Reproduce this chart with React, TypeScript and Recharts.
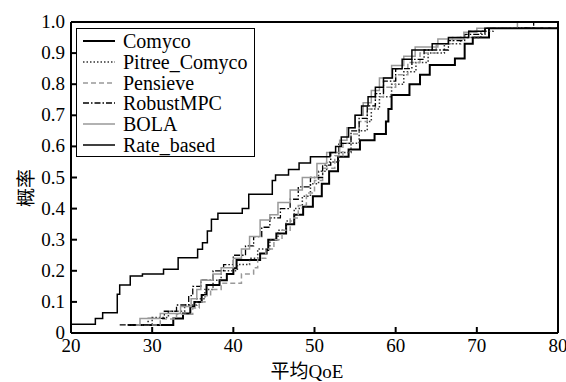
import { Line, LineChart, XAxis, YAxis } from "recharts";

const X_TICKS = [20, 30, 40, 50, 60, 70, 80];
const Y_TICKS = [0, 0.1, 0.2, 0.3, 0.4, 0.5, 0.6, 0.7, 0.8, 0.9, 1.0];

const COMYCO_X = [27, 32.6, 33.8, 34.7, 35.2, 36.1, 36.7, 38.3, 39.2, 40, 40.4, 43.3, 44.1, 44.3, 45.3, 46.5, 47.5, 48.6, 49.8, 50.9, 51.8, 52.9, 54.2, 55.6, 57.4, 58.8, 59.1, 59.5, 61.7, 63, 64.2, 67.3, 68.5, 69.5, 71.5, 80];
const COMYCO_P = [0.026, 0.047, 0.063, 0.085, 0.1, 0.122, 0.154, 0.17, 0.19, 0.208, 0.235, 0.256, 0.267, 0.3, 0.32, 0.35, 0.38, 0.406, 0.44, 0.48, 0.52, 0.567, 0.59, 0.62, 0.64, 0.68, 0.72, 0.765, 0.8, 0.83, 0.862, 0.883, 0.93, 0.95, 0.98, 0.98];

const PITREE_X = [27, 30, 32, 34, 35.5, 36.5, 37.5, 38.5, 40.5, 42, 43, 44.5, 45.5, 46.5, 47.5, 48.5, 49.5, 50.5, 51.5, 53, 54.5, 55.5, 56.5, 57, 58, 59.5, 61, 62.5, 64, 66, 68, 70.5, 72, 80];
const PITREE_P = [0.026, 0.05, 0.07, 0.09, 0.11, 0.14, 0.17, 0.2, 0.22, 0.24, 0.27, 0.3, 0.33, 0.36, 0.4, 0.44, 0.48, 0.52, 0.55, 0.58, 0.61, 0.65, 0.68, 0.72, 0.76, 0.8, 0.84, 0.87, 0.9, 0.93, 0.95, 0.97, 0.98, 0.98];

const PENSIEVE_X = [28, 31, 33, 35, 35.8, 36.5, 37.2, 38.5, 41, 42.5, 43, 44, 45, 46, 47, 48, 49, 50, 51, 52.5, 53.5, 54.5, 55.5, 56.5, 57.5, 58.5, 60, 61.5, 63, 65, 67, 69, 71, 80];
const PENSIEVE_P = [0.026, 0.045, 0.06, 0.08, 0.1, 0.12, 0.14, 0.16, 0.19, 0.21, 0.24, 0.27, 0.3, 0.33, 0.37, 0.41, 0.45, 0.49, 0.53, 0.57, 0.61, 0.64, 0.68, 0.72, 0.76, 0.79, 0.83, 0.87, 0.9, 0.93, 0.95, 0.97, 0.98, 0.98];

const MPC_X = [26, 29.5, 31.5, 33, 34.5, 35, 36, 37.5, 38.8, 40, 41.5, 42.5, 43.5, 44.5, 45.8, 47, 48, 49.5, 51, 52, 53, 54.5, 55.5, 56.5, 57.5, 58.5, 60, 62, 63.5, 66.5, 68.5, 71, 77, 80];
const MPC_P = [0.026, 0.047, 0.07, 0.09, 0.12, 0.15, 0.17, 0.2, 0.22, 0.25, 0.28, 0.31, 0.34, 0.37, 0.4, 0.43, 0.47, 0.5, 0.54, 0.58, 0.61, 0.65, 0.69, 0.73, 0.77, 0.81, 0.85, 0.88, 0.91, 0.94, 0.96, 0.98, 1.0, 1.0];

const BOLA_X = [28, 28.5, 31, 33.5, 34.8, 35.5, 36, 37.5, 38.5, 40, 41, 42, 43.3, 44.5, 45.5, 47, 48.5, 50.3, 51.5, 53.1, 54, 55, 56, 57, 58, 59.5, 61, 62.4, 65.2, 68.4, 70, 75, 80];
const BOLA_P = [0.026, 0.047, 0.063, 0.085, 0.11, 0.14, 0.17, 0.19, 0.21, 0.24, 0.27, 0.31, 0.363, 0.38, 0.42, 0.46, 0.5, 0.545, 0.58, 0.62, 0.66, 0.7, 0.74, 0.78, 0.82, 0.86, 0.89, 0.92, 0.945, 0.967, 0.98, 1.0, 1.0];

const RATE_X = [20, 23, 23.9, 25.7, 26, 27.3, 28.8, 31.4, 33.2, 35.6, 36.2, 36.8, 37.3, 38.1, 41.1, 41.9, 44.8, 45.2, 46.8, 48.1, 49.5, 51.9, 52.6, 53.3, 54.2, 55, 55.8, 56.6, 57.5, 58.5, 59.6, 60.8, 62, 64.5, 66.5, 69, 71, 80];
const RATE_P = [0.028, 0.047, 0.065, 0.125, 0.154, 0.183, 0.19, 0.205, 0.242, 0.269, 0.29, 0.328, 0.366, 0.385, 0.4, 0.446, 0.49, 0.508, 0.526, 0.547, 0.567, 0.58, 0.6, 0.63, 0.66, 0.7, 0.73, 0.76, 0.79, 0.82, 0.85, 0.88, 0.91, 0.93, 0.95, 0.97, 0.98, 0.98];

const toPoints = (xs: number[], ps: number[]) => xs.map((x, i) => ({ x, p: ps[i] }));

const SERIES = [
  { name: "Comyco", data: toPoints(COMYCO_X, COMYCO_P), color: "#000", width: 2, dash: undefined },
  { name: "Pitree_Comyco", data: toPoints(PITREE_X, PITREE_P), color: "#333", width: 1.5, dash: "1.5 2" },
  { name: "Pensieve", data: toPoints(PENSIEVE_X, PENSIEVE_P), color: "#999", width: 1.5, dash: "5 3" },
  { name: "RobustMPC", data: toPoints(MPC_X, MPC_P), color: "#000", width: 1.3, dash: "6 2 1.5 2" },
  { name: "BOLA", data: toPoints(BOLA_X, BOLA_P), color: "#999", width: 1.5, dash: undefined },
  { name: "Rate_based", data: toPoints(RATE_X, RATE_P), color: "#000", width: 1.5, dash: undefined },
];

const SERIF = "'Liberation Serif', serif";
const CJK = "'Liberation Serif', 'Noto Sans CJK SC', serif";

// plot box in page pixels
const PLOT = { left: 71, top: 22, width: 487, height: 311 };

const XTick = (props: any) => {
  const { x, payload } = props;
  return (
    <g>
      <line x1={x} x2={x} y1={PLOT.top + PLOT.height} y2={PLOT.top + PLOT.height - 6} stroke="#000" strokeWidth={2} />
      <text x={x} y={PLOT.top + PLOT.height + 19} textAnchor="middle" fontFamily={SERIF} fontSize={19} fill="#000">
        {payload.value}
      </text>
    </g>
  );
};

const YTick = (props: any) => {
  const { y, payload } = props;
  const v = payload.value as number;
  return (
    <g>
      <line x1={PLOT.left} x2={PLOT.left + 6} y1={y} y2={y} stroke="#000" strokeWidth={2} />
      <text x={PLOT.left - 6} y={y + 6} textAnchor="end" fontFamily={SERIF} fontSize={19} fill="#000">
        {v === 0 ? "0" : v.toFixed(1)}
      </text>
    </g>
  );
};

function LegendBox() {
  return (
    <div
      style={{
        position: "absolute",
        left: 76,
        top: 28,
        border: "1.5px solid #000",
        background: "#fff",
        width: 179,
        height: 129,
        boxSizing: "border-box",
        padding: "2px 0 0 5px",
      }}
    >
      {SERIES.map((s) => (
        <div key={s.name} style={{ display: "flex", alignItems: "center", height: 20.7 }}>
          <svg width={34} height={10}>
            <line x1={1} y1={5} x2={33} y2={5} stroke={s.color} strokeWidth={s.width} strokeDasharray={s.dash} />
          </svg>
          <span style={{ fontFamily: SERIF, fontSize: 20, marginLeft: 7, color: "#000", lineHeight: "20px" }}>{s.name}</span>
        </div>
      ))}
    </div>
  );
}

export default function App() {
  return (
    <div style={{ position: "absolute", left: 0, top: 0, width: 566, height: 382, background: "#fff", fontFamily: SERIF }}>
      <LineChart width={566} height={382} margin={{ top: 22, right: 8, bottom: 19, left: 21 }}>
        <XAxis
          dataKey="x"
          type="number"
          domain={[20, 80]}
          ticks={X_TICKS}
          allowDuplicatedCategory={false}
          height={30}
          stroke="#000"
          strokeWidth={2}
          tickLine={false}
          tick={<XTick />}
          label={{
            content: () => (
              <text x={307} y={378} textAnchor="middle" fontFamily={CJK} fontSize={19} fill="#000">
                平均QoE
              </text>
            ),
          }}
        />
        <YAxis
          dataKey="p"
          type="number"
          domain={[0, 1]}
          ticks={Y_TICKS}
          width={50}
          stroke="#000"
          strokeWidth={2}
          tickLine={false}
          tick={<YTick />}
          label={{
            content: () => (
              <text x={24} y={188} textAnchor="middle" dominantBaseline="central" transform="rotate(-90 24 188)" fontFamily="'Noto Sans CJK SC'" fontSize={19} fill="#000">
                概率
              </text>
            ),
          }}
        />
        {SERIES.map((s) => (
          <Line
            key={s.name}
            data={s.data}
            dataKey="p"
            name={s.name}
            type="stepAfter"
            stroke={s.color}
            strokeWidth={s.width}
            strokeDasharray={s.dash}
            dot={false}
            activeDot={false}
            isAnimationActive={false}
          />
        ))}
      </LineChart>
      <div
        style={{
          position: "absolute",
          left: PLOT.left,
          top: PLOT.top - 1,
          width: PLOT.width + 1,
          height: PLOT.height + 1,
          borderTop: "2px solid #000",
          borderRight: "2px solid #000",
          boxSizing: "border-box",
          pointerEvents: "none",
        }}
      />
      <LegendBox />
    </div>
  );
}
